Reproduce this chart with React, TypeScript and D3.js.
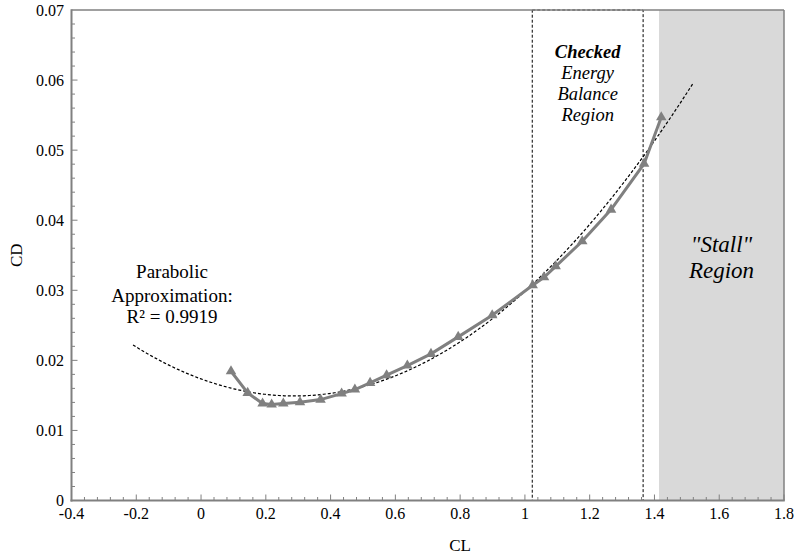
import React, { useEffect, useRef } from "react";
import * as d3 from "d3";

// Measured lift / drag coefficients
const CL_VALUES = [0.0925, 0.144, 0.19, 0.218, 0.254, 0.3055, 0.369, 0.434, 0.475, 0.522, 0.573, 0.637, 0.71, 0.794, 0.899, 1.024, 1.059, 1.095, 1.177, 1.266, 1.368, 1.421];
const CD_VALUES = [0.01845, 0.01536, 0.01384, 0.0137, 0.01384, 0.01402, 0.0144, 0.01526, 0.01583, 0.01679, 0.01788, 0.01926, 0.02093, 0.02335, 0.02643, 0.03071, 0.03186, 0.03342, 0.03699, 0.04151, 0.04807, 0.0547];

// Parabolic approximation CD = c0 + c1*CL + c2*CL^2
const FIT_COEFFS = [0.01735, -0.016917, 0.029416];
const FIT_RANGE = [-0.21, 1.52];
const FIT_LABEL = ["Parabolic", "Approximation:", "R\u00B2 = 0.9919"];

// Regions
const CHECKED_REGION = [1.0227, 1.365];
const CHECKED_LABEL = ["Checked", "Energy", "Balance", "Region"];
const STALL_REGION = [1.414, 1.8];
const STALL_LABEL = ['"Stall"', "Region"];

// Axes
const X_DOMAIN = [-0.4, 1.8];
const Y_DOMAIN = [0, 0.07];
const X_TICKS = [-0.4, -0.2, 0, 0.2, 0.4, 0.6, 0.8, 1, 1.2, 1.4, 1.6, 1.8];
const Y_TICKS = [0, 0.01, 0.02, 0.03, 0.04, 0.05, 0.06, 0.07];
const X_TITLE = "CL";
const Y_TITLE = "CD";

const W = 797;
const H = 559;
const FONT = "Liberation Serif, Tinos, DejaVu Serif, Noto Serif, serif";

export default function App() {
  const ref = useRef<SVGSVGElement>(null);

  useEffect(() => {
    const svg = d3.select(ref.current);
    svg.selectAll("*").remove();

    const left = 71.5, right = 784, top = 10, bottom = 500.5;
    const x = d3.scaleLinear().domain(X_DOMAIN).range([left, right]);
    const y = d3.scaleLinear().domain(Y_DOMAIN).range([bottom, top]);
    const axisColor = "#808080";

    // stall region
    svg.append("rect")
      .attr("x", x(STALL_REGION[0]))
      .attr("y", top)
      .attr("width", x(STALL_REGION[1]) - x(STALL_REGION[0]))
      .attr("height", bottom - top)
      .attr("fill", "#d9d9d9");

    // checked region box
    svg.append("rect")
      .attr("x", x(CHECKED_REGION[0]))
      .attr("y", top)
      .attr("width", x(CHECKED_REGION[1]) - x(CHECKED_REGION[0]))
      .attr("height", bottom - top)
      .attr("fill", "none")
      .attr("stroke", "#000")
      .attr("stroke-width", 1)
      .attr("stroke-dasharray", "3,2");

    // parabola
    const fitPts: [number, number][] = d3.range(0, 201).map((i) => {
      const c = FIT_RANGE[0] + ((FIT_RANGE[1] - FIT_RANGE[0]) * i) / 200;
      return [c, FIT_COEFFS[0] + FIT_COEFFS[1] * c + FIT_COEFFS[2] * c * c];
    });
    const line = d3.line<[number, number]>().x((d) => x(d[0])).y((d) => y(d[1]));
    svg.append("path")
      .attr("d", line(fitPts))
      .attr("fill", "none")
      .attr("stroke", "#000")
      .attr("stroke-width", 1.2)
      .attr("stroke-dasharray", "3,2");

    // data
    const data: [number, number][] = CL_VALUES.map((c, i) => [c, CD_VALUES[i]]);
    svg.append("path")
      .attr("d", line(data))
      .attr("fill", "none")
      .attr("stroke", "#808080")
      .attr("stroke-width", 3);
    const tri = d3.symbol().type(d3.symbolTriangle).size(48);
    svg.selectAll("path.mk")
      .data(data)
      .enter()
      .append("path")
      .attr("class", "mk")
      .attr("d", tri() as string)
      .attr("transform", (d) => `translate(${x(d[0])},${y(d[1])})`)
      .attr("fill", "#808080");

    // axes frame
    const g = svg.append("g");
    g.append("line").attr("x1", left).attr("x2", right).attr("y1", top).attr("y2", top)
      .attr("stroke", axisColor).attr("stroke-width", 1.5);
    g.append("line").attr("x1", right).attr("x2", right).attr("y1", top).attr("y2", bottom)
      .attr("stroke", axisColor).attr("stroke-width", 1.5);

    // minor ticks
    const xMinor = d3.range(0, 56).map((i) => X_DOMAIN[0] + i * 0.04);
    g.selectAll("line.xm").data(xMinor).enter().append("line")
      .attr("x1", (d) => x(d)).attr("x2", (d) => x(d))
      .attr("y1", bottom).attr("y2", (d, i) => bottom - (i % 5 === 0 ? 6 : 3.5))
      .attr("stroke", axisColor).attr("stroke-width", 1);
    const yMinor = d3.range(0, 35).map((i) => i * 0.002);
    g.selectAll("line.ym").data(yMinor).enter().append("line")
      .attr("y1", (d) => y(d)).attr("y2", (d) => y(d))
      .attr("x1", left).attr("x2", (d, i) => left + (i % 5 === 0 ? 6 : 3.5))
      .attr("stroke", axisColor).attr("stroke-width", 1);

    g.append("line").attr("x1", left).attr("x2", left).attr("y1", top - 0.75).attr("y2", bottom + 1)
      .attr("stroke", axisColor).attr("stroke-width", 2);
    g.append("line").attr("x1", left - 1).attr("x2", right + 0.75).attr("y1", bottom).attr("y2", bottom)
      .attr("stroke", axisColor).attr("stroke-width", 2);

    // tick labels
    svg.selectAll("text.xl").data(X_TICKS).enter().append("text")
      .attr("x", (d) => x(d)).attr("y", 519)
      .attr("text-anchor", "middle")
      .attr("font-family", FONT).attr("font-size", 16).attr("fill", "#000")
      .text((d) => String(+d.toFixed(1)).replace("\u2212", "-"));
    svg.selectAll("text.yl").data(Y_TICKS).enter().append("text")
      .attr("x", 64).attr("y", (d) => y(d) + (d === 0 ? 5 : 5.5))
      .attr("text-anchor", "end")
      .attr("font-family", FONT).attr("font-size", 16).attr("fill", "#000")
      .text((d) => (d === 0 ? "0" : d.toFixed(2)));

    // titles
    svg.append("text").attr("x", x(0.8)).attr("y", 551).attr("text-anchor", "middle")
      .attr("font-family", FONT).attr("font-size", 17).text(X_TITLE);
    svg.append("text").attr("transform", `translate(22,${y(0.035)}) rotate(-90)`)
      .attr("text-anchor", "middle")
      .attr("font-family", FONT).attr("font-size", 17).text(Y_TITLE);

    // fit annotation
    const fitBase = [278, 301.5, 323];
    FIT_LABEL.forEach((t, i) => {
      svg.append("text").attr("x", 172).attr("y", fitBase[i]).attr("text-anchor", "middle")
        .attr("font-family", FONT).attr("font-size", 19).text(t);
    });

    // checked annotation
    const cx = (x(CHECKED_REGION[0]) + x(CHECKED_REGION[1])) / 2;
    CHECKED_LABEL.forEach((t, i) => {
      svg.append("text").attr("x", cx).attr("y", 58 + i * 21).attr("text-anchor", "middle")
        .attr("font-family", FONT).attr("font-size", 18.5).attr("font-style", "italic")
        .attr("font-weight", i === 0 ? "bold" : "normal").text(t);
    });

    // stall annotation
    const sx = (x(STALL_REGION[0]) + x(STALL_REGION[1])) / 2;
    STALL_LABEL.forEach((t, i) => {
      svg.append("text").attr("x", sx).attr("y", 252 + i * 25.5).attr("text-anchor", "middle")
        .attr("font-family", FONT).attr("font-size", 23).attr("font-style", "italic").text(t);
    });
  }, []);

  return (
    <svg
      ref={ref}
      width={W}
      height={H}
      style={{ position: "absolute", left: 0, top: 0, background: "#fff" }}
    />
  );
}
